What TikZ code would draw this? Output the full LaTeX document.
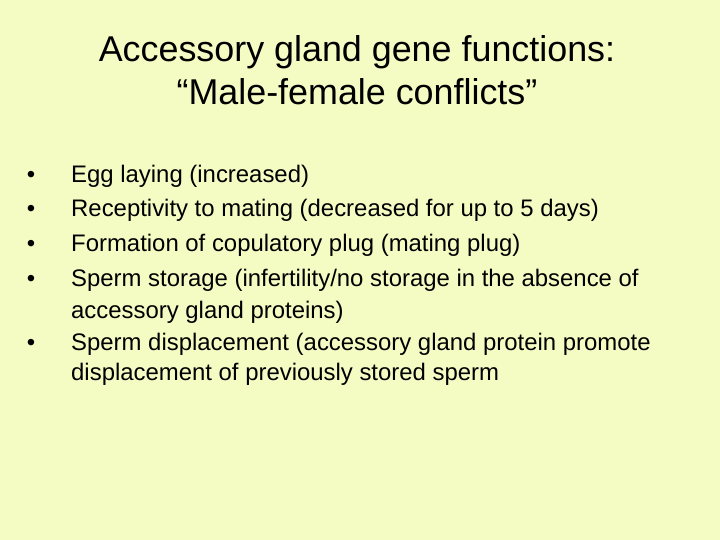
\documentclass[tikz,border=0pt]{standalone}
\usepackage{fontspec}
\setmainfont{Liberation Sans}
\definecolor{bg}{RGB}{244,252,196}
\begin{document}
\begin{tikzpicture}[x=1bp,y=-1bp,
  title/.style={font=\fontsize{36}{40}\selectfont, anchor=base},
  item/.style={font=\fontsize{24}{28}\selectfont, anchor=base west, inner sep=0},
  dot/.style={font=\fontsize{24}{28}\selectfont, anchor=base, inner sep=0}]
\fill[bg] (0,0) rectangle (720,540);
\useasboundingbox (0,0) rectangle (720,540);
\node[title] (t1) at (357,62) {Accessory gland gene functions:};
\node[title] (t2) at (357,105) {“Male-female conflicts”};
\foreach \y/\n in {183/b1,217/b2,252/b3,287/b4,350/b5} \node[dot] (\n) at (31,\y) {•};
\node[item] (i1) at (71,183) {Egg laying (increased)};
\node[item] (i2) at (71,217) {Receptivity to mating (decreased for up to 5 days)};
\node[item] (i3) at (71,252) {Formation of copulatory plug (mating plug)};
\node[item] (i4) at (71,287) {Sperm storage (infertility/no storage in the absence of};
\node[item] (i4b) at (71,318) {accessory gland proteins)};
\node[item] (i5) at (71,350) {Sperm displacement (accessory gland protein promote};
\node[item] (i5b) at (71,380) {displacement of previously stored sperm};
\end{tikzpicture}
\end{document}
